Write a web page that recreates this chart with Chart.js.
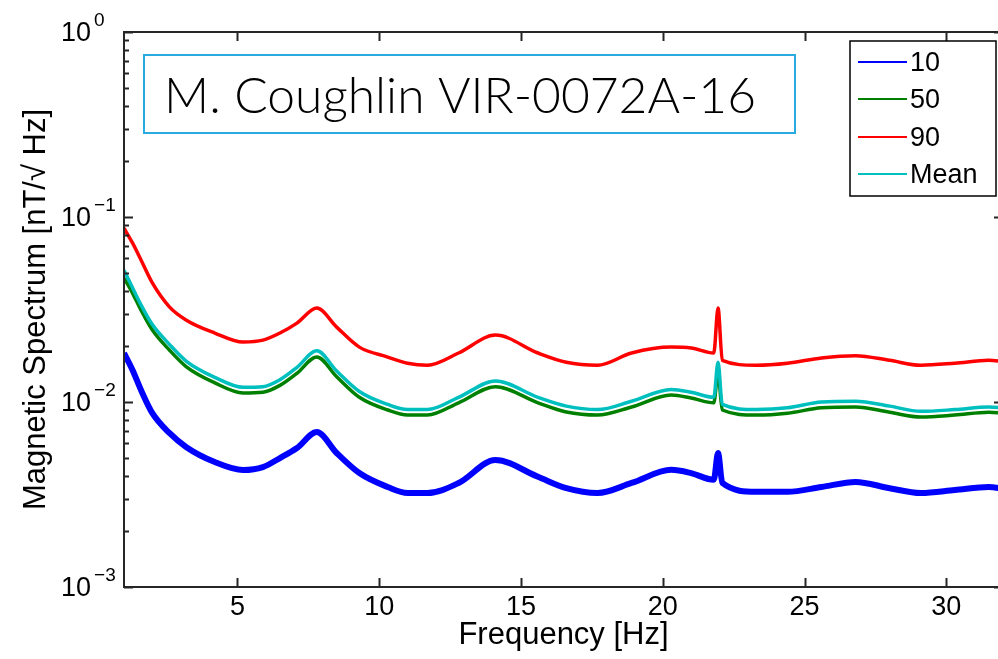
<!DOCTYPE html>
<html><head><meta charset="utf-8">
<script src="https://cdn.jsdelivr.net/npm/chart.js@4.4.1/dist/chart.umd.min.js"></script>
<style>
html,body{margin:0;padding:0;background:#fff;overflow:hidden;width:998px;height:659px;}
#wrap{position:absolute;left:0;top:0;width:1010px;height:659px;}
</style></head><body>
<div id="wrap"><canvas id="c"></canvas></div>
<script>
// ---- data ----
const freq  = [1.0,1.3,1.6,2.0,2.6,3.2,4.2,5.2,5.9,6.5,7.1,7.8,8.5,9.3,10.3,11.0,11.7,12.8,14.1,15.6,16.6,17.7,18.9,20.3,21.0,21.8,21.95,22.1,23.3,24.4,25.6,26.8,28.0,29.1,30.3,31.5,32.0];
const p10   = [0.0184,0.0149,0.0116,0.0087,0.0068,0.0057,0.00474,0.00429,0.00445,0.00498,0.00564,0.00689,0.0053,0.00413,0.00347,0.00322,0.00322,0.00365,0.00486,0.00394,0.00342,0.00322,0.00365,0.0043,0.00413,0.0038,0.0053,0.00365,0.00327,0.00327,0.00347,0.0037,0.00342,0.00322,0.00334,0.00347,0.0034];
const p50   = [0.0468,0.0388,0.0314,0.0245,0.0191,0.0155,0.0127,0.0112,0.0113,0.0123,0.0143,0.0175,0.0137,0.0106,0.00905,0.0085,0.0085,0.0099,0.0121,0.0099,0.00883,0.0085,0.0094,0.0109,0.0105,0.0099,0.0143,0.00905,0.0085,0.0087,0.0093,0.0094,0.0088,0.0083,0.0085,0.0088,0.0087];
const p90   = [0.087,0.0724,0.0586,0.044,0.0327,0.0277,0.0236,0.0211,0.0216,0.0236,0.0267,0.0322,0.0254,0.0198,0.0175,0.0162,0.0158,0.0184,0.0230,0.0184,0.0164,0.0158,0.0184,0.0198,0.0196,0.0184,0.0322,0.0168,0.0158,0.0162,0.0173,0.0178,0.0168,0.0158,0.0162,0.0168,0.0166];
const pMean = [0.0516,0.0415,0.0335,0.0262,0.0205,0.0166,0.0136,0.0120,0.0121,0.0132,0.0154,0.0189,0.0147,0.0114,0.0097,0.0091,0.0091,0.0106,0.0130,0.0106,0.0095,0.0091,0.0101,0.0117,0.0113,0.0106,0.0164,0.0097,0.0091,0.0093,0.0100,0.0101,0.0095,0.0089,0.0091,0.0094,0.0093];

const seriesNames  = ['10','50','90','Mean'];
const seriesColors = ['#0000ff','#008000','#ff0000','#00bfbf'];
const xTicks  = [5,10,15,20,25,30];
const yMajor  = [0.001,0.01,0.1,1];
const yExpLabels = ['\u22123','\u22122','\u22121','0'];
const yMinorMult = [2,3,4,5,6,7,8,9];
const xTitle = 'Frequency [Hz]';
const yTitle = 'Magnetic Spectrum [nT/\u221A Hz]';
const noteText = 'M. Coughlin VIR-0072A-16';

const FONT = "'Liberation Sans', Arial, sans-serif";
const seriesData = [p10, p50, p90, pMean];
const widths = [6, 3.5, 3.5, 3.5];
const orders = [3, 2, 1, 0];

const datasets = seriesData.map((arr, k) => ({
  label: seriesNames[k],
  data: freq.map((f, i) => ({x: f, y: arr[i]})),
  borderColor: seriesColors[k],
  borderWidth: widths[k],
  pointRadius: 0,
  fill: false,
  cubicInterpolationMode: 'monotone',
  order: orders[k]
}));

const decor = {
  id: 'decor',
  afterDatasetsDraw(chart) {
    const {ctx, chartArea: a, scales: {x, y}} = chart;
    ctx.save();
    ctx.strokeStyle = '#262626';
    ctx.lineWidth = 2;
    // inward ticks
    ctx.beginPath();
    xTicks.forEach(v => {
      const px = Math.round(x.getPixelForValue(v)) + 0.5;
      ctx.moveTo(px, a.bottom); ctx.lineTo(px, a.bottom - 9);
      ctx.moveTo(px, a.top); ctx.lineTo(px, a.top + 9);
    });
    yMajor.forEach((m, i) => {
      const py = Math.round(y.getPixelForValue(m)) + 0.5;
      ctx.moveTo(a.left, py); ctx.lineTo(a.left + 9, py);
      ctx.moveTo(a.right, py); ctx.lineTo(a.right - 9, py);
      if (i < yMajor.length - 1) {
        yMinorMult.forEach(k => {
          const qy = Math.round(y.getPixelForValue(m * k)) + 0.5;
          ctx.moveTo(a.left, qy); ctx.lineTo(a.left + 5, qy);
          ctx.moveTo(a.right, qy); ctx.lineTo(a.right - 5, qy);
        });
      }
    });
    ctx.stroke();
    // frame
    ctx.strokeRect(a.left, a.top, a.right - a.left, a.bottom - a.top);

    // y tick labels with superscript exponents
    ctx.fillStyle = '#000';
    ctx.textAlign = 'left';
    ctx.textBaseline = 'middle';
    yMajor.forEach((m, i) => {
      const py = y.getPixelForValue(m);
      ctx.font = '27px ' + FONT;
      ctx.fillText('10', 61, py + 2);
      const w = ctx.measureText('10').width;
      ctx.font = '19px ' + FONT;
      ctx.fillText(yExpLabels[i], 61 + w + 3, py - 11);
    });

    // note box
    ctx.fillStyle = '#fff';
    ctx.fillRect(144, 55, 651, 78);
    ctx.strokeStyle = '#29abe2';
    ctx.lineWidth = 2;
    ctx.strokeRect(144, 55, 651, 78);
    const fs = 50;
    ctx.font = '300 ' + fs + 'px Lato, sans-serif';
    const tw = ctx.measureText(noteText).width;
    const sx = 592 / tw;
    ctx.save();
    ctx.translate(164, 113);
    ctx.scale(sx, 1);
    ctx.fillStyle = '#000';
    ctx.textBaseline = 'alphabetic';
    ctx.fillText(noteText, 0, 0);
    ctx.restore();

    // legend
    ctx.fillStyle = '#fff';
    ctx.fillRect(850, 41, 146, 155);
    ctx.strokeStyle = '#000';
    ctx.lineWidth = 1.5;
    ctx.strokeRect(850, 41, 146, 155);
    const rows = [62, 99, 137, 174];
    ctx.font = '27px ' + FONT;
    ctx.textBaseline = 'middle';
    seriesNames.forEach((n, k) => {
      ctx.strokeStyle = seriesColors[k];
      ctx.lineWidth = 2;
      ctx.beginPath();
      ctx.moveTo(858, rows[k]); ctx.lineTo(907, rows[k]);
      ctx.stroke();
      ctx.fillStyle = '#000';
      ctx.fillText(n, 910, rows[k] + 2);
    });
    ctx.restore();
  }
};

new Chart(document.getElementById('c'), {
  type: 'line',
  data: {datasets},
  options: {
    responsive: true,
    maintainAspectRatio: false,
    animation: false,
    layout: {padding: {top: 32, right: 7, left: 0, bottom: 0}},
    plugins: {legend: {display: false}, tooltip: {enabled: false}},
    scales: {
      x: {
        type: 'linear', min: 1, max: 32,
        afterBuildTicks: s => { s.ticks = xTicks.map(v => ({value: v})); },
        afterFit: s => { s.height = 72; },
        grid: {display: false, drawTicks: false},
        border: {display: false},
        ticks: {color: '#000', font: {family: FONT, size: 27}, padding: 4, maxRotation: 0, autoSkip: false},
        title: {display: true, text: xTitle, color: '#000', font: {family: FONT, size: 31}, padding: {top: 0, bottom: 5}}
      },
      y: {
        type: 'logarithmic', min: 0.001, max: 1,
        afterFit: s => { s.width = 124; },
        grid: {display: false, drawTicks: false},
        border: {display: false},
        ticks: {display: false},
        title: {display: true, text: yTitle, color: '#000', font: {family: FONT, size: 31}, padding: {top: 18, bottom: 0}}
      }
    }
  },
  plugins: [decor]
});
</script>
</body></html>
